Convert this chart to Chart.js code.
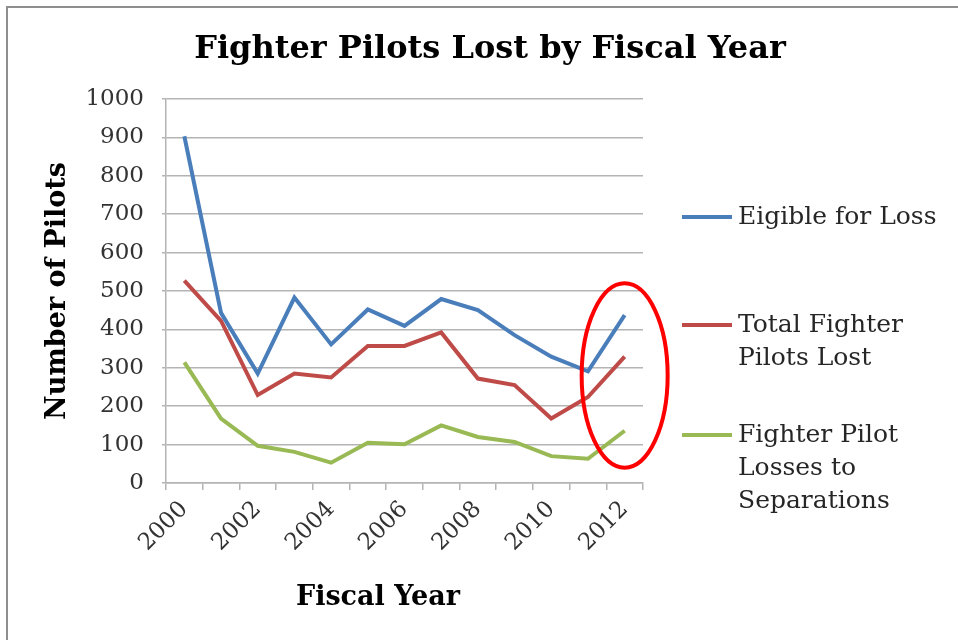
<!DOCTYPE html>
<html>
<head>
<meta charset="utf-8">
<script src="https://cdn.jsdelivr.net/npm/chart.js@4"></script>
<style>
    body { margin: 0; background: #fff; }
    .marco { position: absolute; left: 6px; top: 6px; width: 1000px; height: 700px;
             border-left: 2px solid #8f8f8f; border-top: 2px solid #8f8f8f; }
    #grafico { position: absolute; left: 0; top: 0; }
</style>
</head>
<body>
<div class="marco"></div>
<canvas id="grafico" width="958" height="640"></canvas>
<script>
// Datos
const years = ['2000', '2001', '2002', '2003', '2004', '2005', '2006',
               '2007', '2008', '2009', '2010', '2011', '2012'];
const eligibleForLoss = [903, 443, 285, 483, 361, 452, 409, 479, 450, 385, 329, 291, 437];
const totalLost = [527, 422, 229, 285, 275, 357, 357, 392, 272, 255, 168, 224, 329];
const lossesToSeparations = [314, 168, 97, 81, 53, 105, 101, 150, 120, 107, 70, 63, 136];

const seriesNames = ['Eigible for Loss', 'Total Fighter Pilots Lost', 'Fighter Pilot Losses to Separations'];
const legendLines = [['Eigible for Loss'], ['Total Fighter', 'Pilots Lost'], ['Fighter Pilot', 'Losses to', 'Separations']];
const chartTitle = 'Fighter Pilots Lost by Fiscal Year';
const xTitle = 'Fiscal Year';
const yTitle = 'Number of Pilots';

const serif = '"DejaVu Serif", serif';

// Plugin para título, leyenda de varias líneas y elipse roja
const extrasPlugin = {
    id: 'extras',
    afterDraw(chart) {
        const { ctx, scales } = chart;
        ctx.save();

        // Título principal
        ctx.fillStyle = '#000';
        ctx.font = 'bold 32px ' + serif;
        ctx.textAlign = 'center';
        ctx.textBaseline = 'middle';
        ctx.fillText(chartTitle, 490, 50);

        // Título del eje X
        ctx.font = 'bold 27px ' + serif;
        ctx.fillText(xTitle, 378, 598);

        // Leyenda
        const startY = [217, 325, 435];
        ctx.font = '25px ' + serif;
        ctx.textAlign = 'left';
        chart.data.datasets.forEach((ds, i) => {
            ctx.strokeStyle = ds.borderColor;
            ctx.lineWidth = 4;
            ctx.beginPath();
            ctx.moveTo(682, startY[i]);
            ctx.lineTo(732, startY[i]);
            ctx.stroke();
            ctx.fillStyle = '#262626';
            legendLines[i].forEach((line, j) => {
                ctx.fillText(line, 738, startY[i] + j * 33);
            });
        });

        // Elipse alrededor de 2012
        const cx = scales.x.getPixelForValue(12);
        const cy = scales.y.getPixelForValue(280);
        const ry = scales.y.getPixelForValue(40) - cy;
        ctx.strokeStyle = '#ff0000';
        ctx.lineWidth = 4;
        ctx.beginPath();
        ctx.ellipse(cx, cy, 43, ry, 0, 0, Math.PI * 2);
        ctx.stroke();

        ctx.restore();
    }
};

const ctx = document.getElementById('grafico').getContext('2d');
const chart = new Chart(ctx, {
    type: 'line',
    data: {
        labels: years,
        datasets: [
            { label: seriesNames[0], data: eligibleForLoss, borderColor: '#4a7ebb', backgroundColor: '#4a7ebb' },
            { label: seriesNames[1], data: totalLost, borderColor: '#be4b48', backgroundColor: '#be4b48' },
            { label: seriesNames[2], data: lossesToSeparations, borderColor: '#98b954', backgroundColor: '#98b954' }
        ]
    },
    options: {
        responsive: false,
        animation: false,
        layout: {
            padding: { left: 0, right: 315, top: 99, bottom: 0 }
        },
        elements: {
            line: { borderWidth: 4, tension: 0 },
            point: { radius: 0 }
        },
        scales: {
            x: {
                offset: true,
                grid: {
                    offset: true,
                    drawOnChartArea: false,
                    tickLength: 7,
                    color: '#b4b4b4',
                    lineWidth: 1.5
                },
                border: { color: '#b4b4b4', width: 1.5 },
                ticks: {
                    autoSkip: false,
                    maxRotation: 45,
                    minRotation: 45,
                    padding: 6,
                    color: '#333',
                    font: { family: serif, size: 23 },
                    callback: function (value, index) {
                        return index % 2 === 0 ? this.getLabelForValue(value) : '';
                    }
                },
                afterFit(scale) {
                    scale.height = 157;
                }
            },
            y: {
                min: 0,
                max: 1000,
                ticks: {
                    stepSize: 100,
                    padding: 18,
                    color: '#333',
                    font: { family: serif, size: 23 },
                    callback: (value) => String(value)
                },
                grid: {
                    color: '#b4b4b4',
                    lineWidth: 1.5,
                    tickLength: 4
                },
                border: { color: '#b4b4b4', width: 1.5 },
                title: {
                    display: true,
                    text: yTitle,
                    color: '#000',
                    padding: { top: 42, bottom: 0 },
                    font: { family: serif, size: 27, weight: 'bold' }
                },
                afterFit(scale) {
                    scale.width = 166;
                }
            }
        },
        plugins: {
            legend: { display: false },
            title: { display: false },
            tooltip: { enabled: false }
        }
    },
    plugins: [extrasPlugin]
});
</script>
</body>
</html>
